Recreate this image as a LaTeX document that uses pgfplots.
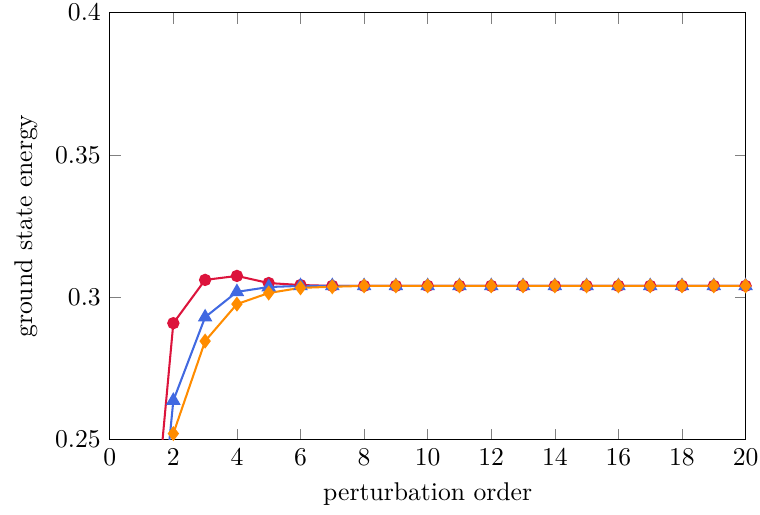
\documentclass[border=0pt]{standalone}
\usepackage{pgfplots}
\pgfplotsset{compat=1.18}
\definecolor{cred}{RGB}{220,20,60}
\definecolor{cblue}{RGB}{65,105,225}
\definecolor{corange}{RGB}{255,140,0}
\begin{document}
\begin{tikzpicture}
\begin{axis}[
  scale only axis,
  width=248pt, height=166.5pt,
  xmin=0, xmax=20, ymin=0.25, ymax=0.4,
  xtick={0,2,...,20},
  ytick={0.25,0.3,0.35,0.4},
  yticklabel style={/pgf/number format/precision=2},
  xlabel={perturbation order},
  ylabel={ground state energy},
  clip=true,
]
\addplot[cred, thick, mark=*, mark size=2pt] coordinates {
(1,0.170) (2,0.2909) (3,0.3061) (4,0.3075) (5,0.3050) (6,0.3043) (7,0.3040)
(8,0.3040) (9,0.3040) (10,0.3040) (11,0.3040) (12,0.3040) (13,0.3040) (14,0.3040)
(15,0.3040) (16,0.3040) (17,0.3040) (18,0.3040) (19,0.3040) (20,0.3040)};
\addplot[cblue, thick, mark=triangle*, mark size=2.5pt] coordinates {
(1,0.150) (2,0.2637) (3,0.2930) (4,0.3019) (5,0.3036) (6,0.3040) (7,0.3040)
(8,0.3040) (9,0.3040) (10,0.3040) (11,0.3040) (12,0.3040) (13,0.3040) (14,0.3040)
(15,0.3040) (16,0.3040) (17,0.3040) (18,0.3040) (19,0.3040) (20,0.3040)};
\addplot[corange, thick, mark=diamond*, mark size=2.3pt] coordinates {
(1,0.130) (2,0.2521) (3,0.2846) (4,0.2976) (5,0.3015) (6,0.3033) (7,0.3037)
(8,0.3040) (9,0.3040) (10,0.3040) (11,0.3040) (12,0.3040) (13,0.3040) (14,0.3040)
(15,0.3040) (16,0.3040) (17,0.3040) (18,0.3040) (19,0.3040) (20,0.3040)};
\end{axis}
\pgfresetboundingbox
\path[use as bounding box] ([shift={(-2.3pt,0pt)}]current axis.outer south west) rectangle ([shift={(-2.7pt,-1.6pt)}]current axis.outer north east);
\end{tikzpicture}
\end{document}
